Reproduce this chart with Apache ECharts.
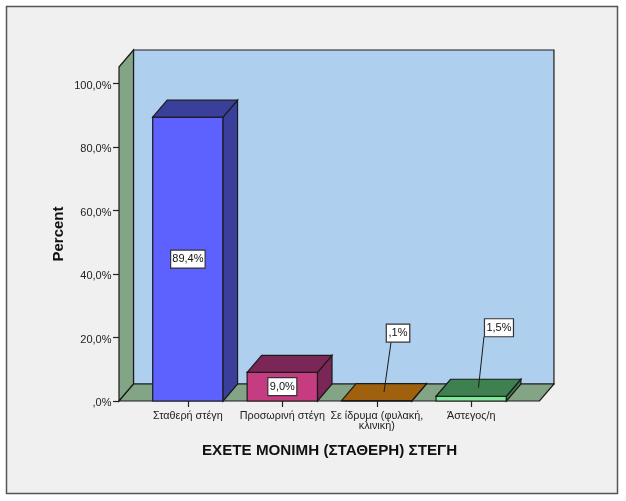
<!DOCTYPE html>
<html><head><meta charset="utf-8">
<style>html,body{margin:0;padding:0;background:#fff}#c{width:626px;height:501px}</style>
<script src="https://cdn.jsdelivr.net/npm/echarts@6/dist/echarts.min.js"></script>
</head><body><div id="c"></div>
<script>
const categories = ['Σταθερή στέγη', 'Προσωρινή στέγη', 'Σε ίδρυμα (φυλακή,\nκλινική)', 'Άστεγος/η'];
const percentValues = [89.4, 9.0, 0.1, 1.5];
const valueLabels = ['89,4%', '9,0%', ',1%', '1,5%'];
const yTickStep = 20;
const yMax = 105.2;

const faceColors = ['#5d62ff', '#c63c80', '#a86a1c', '#7fe89a'];
const darkColors = ['#3a3f9c', '#7a2656', '#a0610f', '#3f8050'];
// box dx, box dy, leader end dx (relative to the box centre)
const calloutOffsets = [null, null, [14, -59, -7], [20.5, -60, -15]];
const DX = 14.5, DY = -17, BAR = 0.745, WALL_L = 21.65, WALL_R = 21;
const LINE = '#1a1a1a';

function poly(points, fill) {
  return { type: 'polygon', shape: { points }, style: { fill, stroke: LINE, lineWidth: 1.2 } };
}
function renderWalls(params, api) {
  const cs = params.coordSys;
  const l = cs.x - WALL_L, r = cs.x + cs.width + WALL_R, t = cs.y, b = cs.y + cs.height;
  return { type: 'group', children: [
    poly([[l + DX, t + DY], [r + DX, t + DY], [r + DX, b + DY], [l + DX, b + DY]], '#aed0ee'),
    poly([[l, t], [l + DX, t + DY], [l + DX, b + DY], [l, b]], '#83a585'),
    poly([[l, b], [r, b], [r + DX, b + DY], [l + DX, b + DY]], '#83a585')
  ]};
}
function labelBox(cx, cy, text) {
  const w = text.length * 5.5 + 7, h = 18;
  return [
    { type: 'rect', shape: { x: cx - w / 2, y: cy - h / 2, width: w, height: h },
      style: { fill: '#fff', stroke: '#333', lineWidth: 1.2 } },
    { type: 'text', style: { x: cx, y: cy, text, fill: '#111', align: 'center', verticalAlign: 'middle',
      font: '11px "Liberation Sans"' } }
  ];
}
function renderBar(params, api) {
  const i = api.value(0), v = api.value(1);
  const base = api.coord([i, 0]), top = api.coord([i, v]);
  const w = api.size([1, 0])[0] * BAR;
  const x0 = base[0] - w / 2, x1 = base[0] + w / 2, y0 = base[1], y1 = top[1];
  const kids = [
    poly([[x0, y1], [x1, y1], [x1, y0], [x0, y0]], faceColors[i]),
    poly([[x1, y1], [x1 + DX, y1 + DY], [x1 + DX, y0 + DY], [x1, y0]], darkColors[i]),
    poly([[x0, y1], [x0 + DX, y1 + DY], [x1 + DX, y1 + DY], [x1, y1]], darkColors[i])
  ];
  const off = calloutOffsets[i];
  if (off) {
    const ax = base[0] + DX / 2, ay = y1 + DY / 2;
    kids.push({ type: 'line', shape: { x1: ax, y1: ay, x2: ax + off[0] + off[2], y2: ay + off[1] + 9 },
      style: { stroke: LINE, lineWidth: 1 } });
    kids.push(...labelBox(ax + off[0], ay + off[1], valueLabels[i]));
  } else {
    kids.push(...labelBox(base[0], (y0 + y1) / 2, valueLabels[i]));
  }
  return { type: 'group', children: kids };
}
const chart = echarts.init(document.getElementById('c'), null, { renderer: 'canvas' });
chart.setOption({
  animation: false,
  backgroundColor: '#fff',
  graphic: [{ type: 'rect', z: -10, shape: { x: 6.5, y: 6.5, width: 611, height: 487 },
    style: { fill: '#f0f0f0', stroke: '#555', lineWidth: 1.5 } }],
  grid: { left: 140.65, right: 107.55, top: 67, bottom: 100 },
  xAxis: {
    type: 'category', data: categories,
    name: 'ΕΧΕΤΕ ΜΟΝΙΜΗ (ΣΤΑΘΕΡΗ) ΣΤΕΓΗ', nameLocation: 'middle', nameGap: 42, nameMoveOverlap: false,
    nameTextStyle: { fontFamily: 'Liberation Sans', fontSize: 15.2, fontWeight: 'bold', color: '#111' },
    axisLine: { show: false },
    axisTick: { show: true, alignWithLabel: true, length: 6, lineStyle: { color: '#222', width: 1.2 } },
    axisLabel: { interval: 0, margin: 10, fontFamily: 'Liberation Sans', fontSize: 10.8, lineHeight: 10, color: '#222' }
  },
  yAxis: {
    type: 'value', min: 0, max: yMax, interval: yTickStep, offset: WALL_L,
    name: 'Percent', nameLocation: 'middle', nameGap: 53, nameMoveOverlap: false,
    nameTextStyle: { fontFamily: 'Liberation Sans', fontSize: 15, fontWeight: 'bold', color: '#111' },
    splitLine: { show: false },
    axisLine: { show: false },
    axisTick: { show: true, length: 6, lineStyle: { color: '#222', width: 1.2 } },
    axisLabel: { margin: 7.5, fontFamily: 'Liberation Sans', fontSize: 11, color: '#222',
      verticalAlign: 'top', lineHeight: 4,
      showMaxLabel: false, formatter: v => v.toFixed(1).replace('.', ',').replace(/^0,/, ',') + '%' }
  },
  series: [
    { type: 'custom', renderItem: renderWalls, data: [[0, 0]], clip: false, silent: true, z: 1,
      encode: { x: 0, y: 1 } },
    { type: 'custom', renderItem: renderBar, clip: false, z: 2,
      data: percentValues.map((v, i) => [i, v]), encode: { x: 0, y: 1 } }
  ]
});
</script></body></html>
